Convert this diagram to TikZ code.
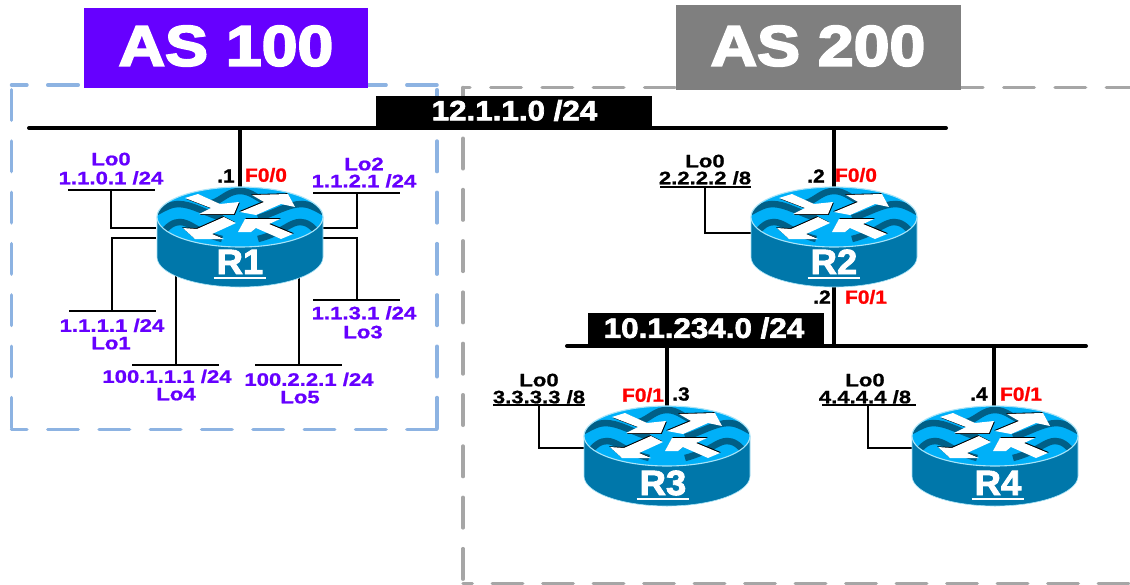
\documentclass[tikz,border=0pt]{standalone}
\usepackage{fontspec}
\setmainfont{Liberation Sans}
\newfontfamily\widef[FakeStretch=1.13,FakeBold=3.5]{Liberation Sans Bold}
\newfontfamily\heavyf[FakeStretch=1.12,FakeBold=2.5]{Liberation Sans Bold}
\newfontfamily\smallf[FakeStretch=1.23,FakeBold=1]{Liberation Sans Bold}
\newfontfamily\ifacef[FakeStretch=1.1,FakeBold=1.2]{Liberation Sans Bold}
\newfontfamily\rnamef[FakeStretch=1.04,FakeBold=2.5]{Liberation Sans Bold}
\definecolor{asp}{HTML}{6600FF}
\definecolor{asg}{HTML}{7F7F7F}
\definecolor{dashb}{HTML}{8DB3E2}
\definecolor{dashg}{HTML}{A6A6A6}
\definecolor{rbody}{HTML}{0077AA}
\definecolor{rtop}{HTML}{00B0F8}
\definecolor{rwave}{HTML}{005F87}
\definecolor{rrim}{HTML}{A8E4F8}
\def\rarr#1#2{\fill[black,shift={#1}] #2; \fill[white] #2;}
\tikzset{
  x=1pt,y=-1pt,
  topell/.style={insert path={(-83,0) .. controls (-83,-16.6) and (-45.8,-30) .. (0,-30) .. controls (45.8,-30) and (83,-16.6) .. (83,0) .. controls (83,16.6) and (45.8,30) .. (0,30) .. controls (-45.8,30) and (-83,16.6) .. (-83,0) -- cycle}},
  wave/.style={draw=rwave,line width=6.5pt},
  ciscorouter/.pic={
    \fill[rbody,draw=rrim,line width=0.6pt] (-83,0) -- (-83,40) .. controls (-83,56.6) and (-45.8,70) .. (0,70) .. controls (45.8,70) and (83,56.6) .. (83,40) -- (83,0) -- cycle;
    \fill[rtop][topell];
    \begin{scope}
      \clip[topell];
      \foreach \s in {1,-1}{
        \begin{scope}[xscale=\s]
          \draw[wave] (-90,-1) .. controls (-75,-10) and (-68,-13) .. (-62,-13) .. controls (-48,-13) and (-35,-4) .. (-18,1);
          \draw[wave] (-80,19) .. controls (-72,8) and (-66,5) .. (-60,5) .. controls (-50,5) and (-42,16) .. (-18,22);
        \end{scope}
      }
      \draw[wave] (-28,-14) .. controls (-18,-17) and (-12,-26) .. (0,-26) .. controls (12,-26) and (18,-17) .. (30,-14);
    \end{scope}
    \draw[rrim,line width=1.1pt][topell];
    \rarr{(0.8,0.8)}{(-55,-19) -- (-42,-23) -- (-20,-13) -- (-1,-15) -- (-6,-3) -- (-41,-3) -- (-29,-9) -- cycle}
    \rarr{(-0.8,-0.8)}{(0,-5) -- (24,-15) -- (12,-22) -- (48,-23) -- (55,-10) -- (41,-13) -- (16,-2) -- cycle}
    \rarr{(-0.8,-0.8)}{(-57,11) -- (-45,22) -- (-16,22) -- (-28,17) -- (-4,6) -- (-16,0) -- (-43,12) -- cycle}
    \rarr{(0.8,-0.8)}{(-2,15) -- (5,2) -- (40,2) -- (29,7) -- (53,17) -- (41,22) -- (16,11) -- (11,15) -- cycle}
  },
  rlabel/.style={text=white,inner sep=0pt,anchor=base,font=\rnamef\fontsize{35}{35}\selectfont},
  asbanner/.style={text=white,inner sep=0pt,font=\widef\fontsize{57}{57}\selectfont},
  netbar/.style={text=white,inner sep=0pt,font=\heavyf\fontsize{28}{28}\selectfont},
  lolabel/.style={text=asp,inner sep=0pt,text height=13pt,text depth=0.5pt,font=\smallf\fontsize{18}{18}\selectfont},
  lolabelk/.style={text=black,inner sep=0pt,text height=13pt,text depth=0.5pt,font=\smallf\fontsize{18}{18}\selectfont},
  iface/.style={text=red,inner sep=0pt,font=\ifacef\fontsize{19}{19}\selectfont},
  ipdot/.style={text=black,inner sep=0pt,font=\ifacef\fontsize{19}{19}\selectfont},
  bus/.style={line width=4pt,line cap=round},
  link/.style={line width=4pt},
  lo/.style={line width=1.5pt},
  dashline/.style={line width=3.5pt,line cap=round},
}
\newcommand{\rtext}[1]{\vtop{\hbox{\kern3pt #1\kern3pt}\kern2.5pt\hrule height 2pt}}
\begin{document}
\begin{tikzpicture}
\useasboundingbox (0,0) rectangle (1130,584);
\fill[white] (0,0) rectangle (1130,584);
% AS areas
\coordinate (atl) at (11.5,85); \coordinate (atr) at (437,85);
\coordinate (abl) at (11.5,429.5); \coordinate (abr) at (437,429.5);
\begin{scope}[dashb,dashline]
\draw[dash pattern=on 30.5pt off 20.8pt,dash phase=46.55pt] (atl) -- (abl);
\draw[dash pattern=on 30.5pt off 20.8pt,dash phase=46.55pt] (atr) -- (abr);
\draw[dash pattern=on 30.5pt off 20.8pt,dash phase=15.05pt] (atl) -- (atr);
\draw[dash pattern=on 30.5pt off 20.8pt,dash phase=15.05pt] (abl) -- (abr);
\end{scope}
\coordinate (gtl) at (463,87.5); \coordinate (gtr) at (1130,87.5);
\coordinate (gbl) at (463,583.4); \coordinate (gbr) at (1130,583.4);
\begin{scope}[dashg,dashline]
\draw[dash pattern=on 30.5pt off 20.8pt,dash phase=0.55pt] (gtl) -- (gbl);
\draw[dash pattern=on 30.5pt off 20.8pt,dash phase=23.55pt] (gtl) -- (gtr);
\draw[dash pattern=on 30.5pt off 20pt,dash phase=21.25pt] (gbl) -- (gbr);
\end{scope}
% banners
\fill[asp] (84,8) rectangle (368,88);
\fill[asg] (676,5) rectangle (961,90);
\node[asbanner] (as100) at (226,46) {AS 100};
\node[asbanner] (as200) at (818,46) {AS 200};
% buses
\coordinate (b1l) at (29,128); \coordinate (b1r) at (946,128);
\coordinate (b1a) at (240,128); \coordinate (b1b) at (834,128);
\coordinate (b2l) at (567,346); \coordinate (b2r) at (1086,346);
\coordinate (b2a) at (834,346); \coordinate (b2c) at (667,346); \coordinate (b2d) at (994,346);
\draw[bus] (b1l) -- (b1r);
\draw[bus] (b2l) -- (b2r);
\path[fill=black] (376,96) rectangle (652,128);
\path[fill=black] (588,313) rectangle (824,345);
\node[netbar] (n1) at (514.5,110.5) {12.1.1.0 /24};
\node[netbar] (n2) at (704,328) {10.1.234.0 /24};
% connection points
\coordinate (r1t) at (240,187); \coordinate (r2t) at (834,187); \coordinate (r2b) at (834,287);
\coordinate (r3t) at (667,406); \coordinate (r4t) at (994,406);
\draw[link] (b1a) -- (r1t);
\draw[link] (b1b) -- (r2t);
\draw[link] (r2b) -- (b2a);
\draw[link] (b2c) -- (r3t);
\draw[link] (b2d) -- (r4t);
% R1 loopbacks
\coordinate (a0) at (68,190); \coordinate (a0e) at (155,190); \coordinate (a0t) at (111,190); \coordinate (a0r) at (156,228);
\draw[lo] (a0) -- (a0e); \draw[lo] (a0t) |- (a0r);
\coordinate (a2) at (313,193); \coordinate (a2e) at (400,193); \coordinate (a2t) at (357,193); \coordinate (a2r) at (322,228);
\draw[lo] (a2) -- (a2e); \draw[lo] (a2t) |- (a2r);
\coordinate (a1) at (69,311); \coordinate (a1e) at (156,311); \coordinate (a1t) at (112,311); \coordinate (a1r) at (156,238);
\draw[lo] (a1) -- (a1e); \draw[lo] (a1t) |- (a1r);
\coordinate (a3) at (313,300); \coordinate (a3e) at (400,300); \coordinate (a3t) at (357,300); \coordinate (a3r) at (322,238);
\draw[lo] (a3) -- (a3e); \draw[lo] (a3t) |- (a3r);
\coordinate (a4) at (132,365); \coordinate (a4e) at (219,365); \coordinate (a4t) at (176,365); \coordinate (a4r) at (176,276);
\draw[lo] (a4) -- (a4e); \draw[lo] (a4t) -- (a4r);
\coordinate (a5) at (255,365); \coordinate (a5e) at (342,365); \coordinate (a5t) at (299,365); \coordinate (a5r) at (299,276);
\draw[lo] (a5) -- (a5e); \draw[lo] (a5t) -- (a5r);
% other loopbacks
\coordinate (c2) at (660,187); \coordinate (c2e) at (751,187); \coordinate (c2t) at (705,187); \coordinate (c2r) at (751,233);
\draw[lo] (c2) -- (c2e); \draw[lo] (c2t) |- (c2r);
\coordinate (c3) at (493,405); \coordinate (c3e) at (585,405); \coordinate (c3t) at (539,405); \coordinate (c3r) at (584,448);
\draw[lo] (c3) -- (c3e); \draw[lo] (c3t) |- (c3r);
\coordinate (c4) at (822,405); \coordinate (c4e) at (916,405); \coordinate (c4t) at (868,405); \coordinate (c4r) at (912,448);
\draw[lo] (c4) -- (c4e); \draw[lo] (c4t) |- (c4r);
% routers
\pic at (240,217) {ciscorouter};
\pic at (834,217) {ciscorouter};
\pic at (667,436) {ciscorouter};
\pic at (995,436) {ciscorouter};
\node[rlabel] (R1) at (240,274) {\rtext{R1}};
\node[rlabel] (R2) at (834,274) {\rtext{R2}};
\node[rlabel] (R3) at (663,495) {\rtext{R3}};
\node[rlabel] (R4) at (998,495) {\rtext{R4}};
% R1 labels
\node[lolabel] (l0) at (111,159) {Lo0};
\node[lolabel] (l0a) at (111,178) {1.1.0.1 /24};
\node[lolabel] (l2) at (364,164) {Lo2};
\node[lolabel] (l2a) at (364,181) {1.1.2.1 /24};
\node[lolabel] (l1a) at (112,325.5) {1.1.1.1 /24};
\node[lolabel] (l1) at (111,343) {Lo1};
\node[lolabel] (l3a) at (364,313) {1.1.3.1 /24};
\node[lolabel] (l3) at (363,332) {Lo3};
\node[lolabel] (l4a) at (167,376.5) {100.1.1.1 /24};
\node[lolabel] (l4) at (176,394) {Lo4};
\node[lolabel] (l5a) at (309,379.5) {100.2.2.1 /24};
\node[lolabel] (l5) at (300,397) {Lo5};
% black labels
\node[lolabelk] (k2) at (705,161) {Lo0};
\node[lolabelk] (k2a) at (705,178) {2.2.2.2 /8};
\node[lolabelk] (k3) at (539,380) {Lo0};
\node[lolabelk] (k3a) at (539,397) {3.3.3.3 /8};
\node[lolabelk] (k4) at (865,380) {Lo0};
\node[lolabelk] (k4a) at (865,397) {4.4.4.4 /8};
% interfaces
\node[ipdot] (d1) at (226,176) {.1};
\node[iface] (f1) at (266,175) {F0/0};
\node[ipdot] (d2) at (816,176) {.2};
\node[iface] (f2) at (856,175) {F0/0};
\node[ipdot] (d2b) at (822,297) {.2};
\node[iface] (f2b) at (866,297) {F0/1};
\node[iface] (f3) at (643,395) {F0/1};
\node[ipdot] (d3) at (681,394) {.3};
\node[ipdot] (d4) at (979,394) {.4};
\node[iface] (f4) at (1021,394) {F0/1};
\end{tikzpicture}
\end{document}
